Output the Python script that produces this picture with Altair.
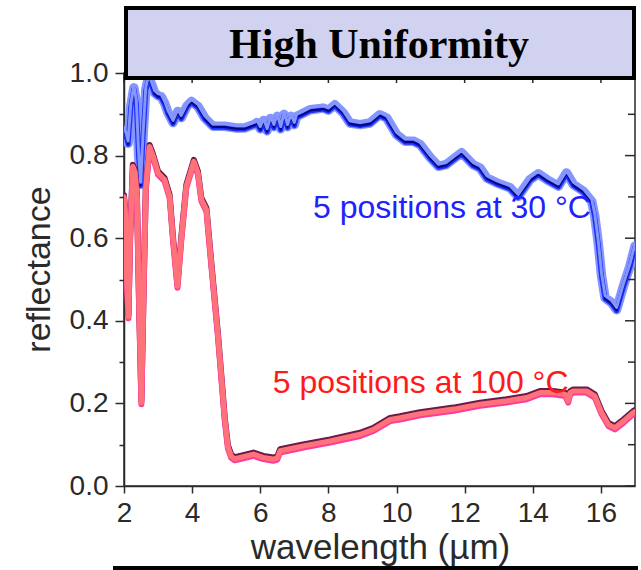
import altair as alt
import pandas as pd

# ---- data ----
blue_x = [2.0, 2.06, 2.12, 2.2, 2.29, 2.36, 2.43, 2.49, 2.56, 2.64, 2.72, 2.8, 2.9, 3.0, 3.09,
          3.2, 3.29, 3.44, 3.58, 3.68, 3.85, 3.98, 4.17, 4.37, 4.61, 4.96, 5.3, 5.54, 5.84,
          5.9, 6.0, 6.1, 6.2, 6.3, 6.4, 6.5, 6.6, 6.7, 6.8, 6.9, 7.0, 7.07, 7.2,
          7.46, 7.85, 8.0, 8.19, 8.44, 8.63, 8.93, 9.22, 9.51, 9.71, 10.0, 10.25, 10.49,
          10.69, 10.98, 11.23, 11.45, 11.91, 12.25, 12.45, 12.65, 12.94, 13.33, 13.57,
          13.92, 14.16, 14.41, 14.75, 14.99, 15.19, 15.48, 15.73, 15.82, 15.92, 16.02,
          16.12, 16.31, 16.46, 16.66, 16.85, 17.0]
blue_y = [0.86, 0.85, 0.83, 0.92, 0.964, 0.93, 0.80, 0.73, 0.85, 0.96, 0.99, 0.975, 0.952, 0.945, 0.943,
          0.925, 0.904, 0.88, 0.907, 0.892, 0.92, 0.931, 0.919, 0.891, 0.871, 0.871, 0.867, 0.867, 0.876,
          0.88, 0.865, 0.885, 0.86, 0.89, 0.87, 0.895, 0.865, 0.90, 0.87, 0.895, 0.875, 0.895, 0.90,
          0.911, 0.915, 0.91, 0.923, 0.903, 0.879, 0.875, 0.879, 0.899, 0.891, 0.851, 0.835, 0.835,
          0.827, 0.796, 0.774, 0.778, 0.807, 0.778, 0.770, 0.746, 0.734, 0.722, 0.701,
          0.742, 0.756, 0.742, 0.726, 0.758, 0.730, 0.714, 0.689, 0.653, 0.589, 0.508,
          0.456, 0.444, 0.427, 0.484, 0.532, 0.581]

red_x = [2.0, 2.04, 2.08, 2.13, 2.18, 2.26, 2.32, 2.38, 2.44, 2.51, 2.57, 2.64, 2.75, 2.85, 3.0,
         3.19, 3.34, 3.44, 3.57, 3.68, 3.83, 4.05, 4.17, 4.27, 4.42, 4.56, 4.76, 4.96, 5.05,
         5.15, 5.25, 5.5, 5.8, 6.09, 6.38, 6.5, 6.58, 7.26, 8.05, 8.93, 9.32, 9.81, 10.1,
         10.69, 11.67, 12.45, 13.23, 13.82, 14.21, 14.6, 14.95, 15.04, 15.1, 15.19, 15.58,
         15.82, 16.02, 16.22, 16.41, 16.66, 16.95, 17.0]
red_y = [0.70, 0.66, 0.50, 0.41, 0.60, 0.774, 0.76, 0.70, 0.45, 0.202, 0.45, 0.72, 0.822, 0.80, 0.758,
         0.742, 0.701, 0.597, 0.484, 0.597, 0.726, 0.786, 0.758, 0.694, 0.669, 0.540, 0.363, 0.16, 0.095,
         0.072, 0.066, 0.071, 0.077, 0.069, 0.065, 0.068, 0.085, 0.097, 0.109, 0.125, 0.137, 0.161, 0.165,
         0.175, 0.186, 0.198, 0.206, 0.214, 0.226, 0.226, 0.222, 0.206, 0.226, 0.230, 0.230,
         0.218, 0.178, 0.149, 0.141, 0.157, 0.178, 0.18]

y_ticks = [0.0, 0.1, 0.2, 0.3, 0.4, 0.5, 0.6, 0.7, 0.8, 0.9, 1.0]
x_ticks = [2, 3, 4, 5, 6, 7, 8, 9, 10, 11, 12, 13, 14, 15, 16, 17]
right_major = [0.0, 0.2, 0.4, 0.6, 0.8, 1.0]
right_minor = [0.1, 0.3, 0.5, 0.7, 0.9]
top_major = [2, 4, 6, 8, 10, 12, 14, 16]

labels_text = ["5 positions at 30 °C", "5 positions at 100 °C"]
labels_x = [7.55, 6.37]
labels_y = [0.649, 0.224]
labels_color = ["#1e22ff", "#ff1a1a"]

title_text = "High Uniformity"

# ---- tables ----
blue = pd.DataFrame({"wl": blue_x, "r": blue_y})
red = pd.DataFrame({"wl": red_x, "r": red_y})
ann = pd.DataFrame({"t": labels_text, "wl": labels_x, "r": labels_y, "c": labels_color})
rmaj = pd.DataFrame({"v": right_major})
rmin = pd.DataFrame({"v": right_minor})
tmaj = pd.DataFrame({"v": top_major})

W, H = 511, 413
xs = alt.Scale(domain=[2, 17], nice=False, zero=False)
ys = alt.Scale(domain=[0, 1], nice=False, zero=False)

FONT = "Liberation Sans"
AX = "#2a2a2a"

x_axis = alt.Axis(
    values=x_ticks,
    labelExpr="datum.value % 2 == 0 && datum.value < 17 ? format(datum.value, 'd') : ''",
    tickSize={"condition": {"test": "datum.value % 2 == 1", "value": 4}, "value": 7},
    labelFlush=False, labelOverlap=False,
    labelPadding=6, labelFontSize=28, labelFont=FONT, labelColor=AX,
    title="wavelength (µm)", titleFontSize=35, titleFont=FONT, titleFontWeight="normal",
    titleColor=AX, titleX=256, titleY=72, titleBaseline="alphabetic", titleAnchor="middle",
    domainColor=AX, domainWidth=1.5, tickColor=AX, tickWidth=1.5, grid=False,
)
y_axis = alt.Axis(
    values=y_ticks,
    labelExpr="round(datum.value * 10) % 2 == 0 ? format(datum.value, '.1f') : ''",
    tickSize={"condition": {"test": "round(datum.value * 10) % 2 == 1", "value": 5}, "value": 9},
    labelFlush=False, labelOverlap=False,
    labelPadding=7, labelFontSize=28, labelFont=FONT, labelColor=AX,
    title="reflectance", titleFontSize=34, titleFont=FONT, titleFontWeight="normal",
    titleColor=AX, titleX=-85, titleY=196, titleBaseline="middle", titleAngle=-90,
    domainColor=AX, domainWidth=1.5, tickColor=AX, tickWidth=1.5, grid=False,
)

X = alt.X("wl:Q", scale=xs, axis=x_axis)
Y = alt.Y("r:Q", scale=ys, axis=y_axis)


def line(df, color, width, yoff=0.0, opacity=1.0):
    return alt.Chart(df).mark_line(color=color, strokeWidth=width, yOffset=yoff, clip=True,
                                   opacity=opacity, strokeJoin="round",
                                   strokeCap="round").encode(x=X, y=Y)


layers = [
    line(blue, "#8596ff", 9.5),
    line(blue, "#1a2cff", 5, 1.0),
    line(blue, "#000060", 2.0, 0.8, 0.85),
    line(blue, "#8596ff", 3.0, -2.2),
    line(red, "#6a1a48", 6, -1.6),
    line(red, "#ff3a9a", 6, 1.6),
    line(red, "#ff727a", 5.2),
]

text = alt.Chart(ann).mark_text(align="left", baseline="alphabetic", font=FONT, fontSize=32).encode(
    x=alt.X("wl:Q", scale=xs), y=alt.Y("r:Q", scale=ys), text="t:N",
    color=alt.Color("c:N", scale=None))

rt_major = alt.Chart(rmaj).mark_rule(color=AX, strokeWidth=1.5).encode(
    y=alt.Y("v:Q", scale=ys), x=alt.value(W - 10), x2=alt.value(W))
rt_minor = alt.Chart(rmin).mark_rule(color=AX, strokeWidth=1.5).encode(
    y=alt.Y("v:Q", scale=ys), x=alt.value(W - 7), x2=alt.value(W))
tp_major = alt.Chart(tmaj).mark_rule(color=AX, strokeWidth=1.5).encode(
    x=alt.X("v:Q", scale=xs), y=alt.value(0), y2=alt.value(10))

box = alt.Chart(pd.DataFrame({"t": [title_text]})).mark_rect(
    fill="#d0d2f0", stroke="#000000", strokeWidth=4).encode(
    x=alt.value(2), x2=alt.value(510), y=alt.value(-65), y2=alt.value(5))
box_text = alt.Chart(pd.DataFrame({"t": [title_text]})).mark_text(
    font="Liberation Serif", fontSize=42, fontWeight="bold", color="#000000",
    align="center", baseline="alphabetic").encode(
    x=alt.value(255), y=alt.value(-15), text="t:N")
bottom_frame = alt.Chart(pd.DataFrame({"t": [title_text]})).mark_rect(
    fillOpacity=0, stroke="#000000", strokeWidth=4).encode(
    x=alt.value(-9), x2=alt.value(512), y=alt.value(495), y2=alt.value(600))

chart = alt.layer(*layers, text, rt_major, rt_minor, tp_major, box, box_text, bottom_frame).properties(
    width=W, height=H,
    autosize=alt.AutoSizeParams(type="none"),
    padding={"left": 124, "top": 73, "right": 6, "bottom": 84},
    background="#ffffff",
).configure_view(stroke=AX, strokeWidth=1.5)

chart.save("out.html", embed_options={"renderer": "svg", "actions": False})
